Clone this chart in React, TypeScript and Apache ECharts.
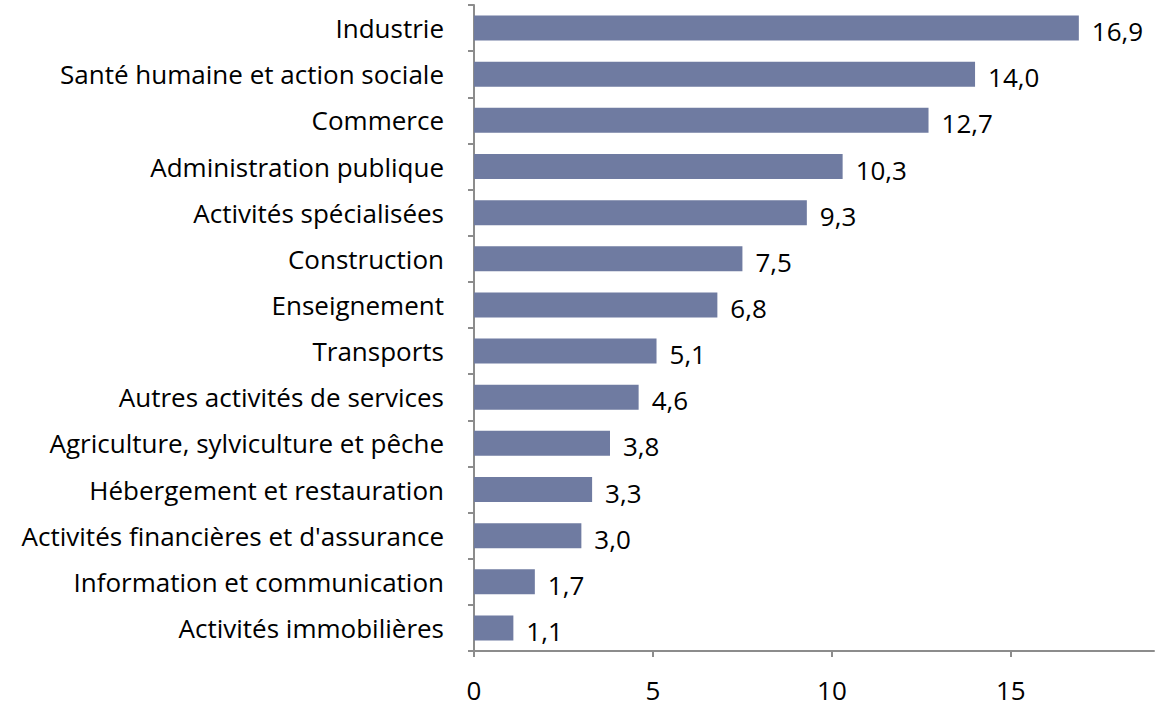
import React, { useEffect, useRef } from "react";
import * as echarts from "echarts";

const categories = [
  "Industrie",
  "Santé humaine et action sociale",
  "Commerce",
  "Administration publique",
  "Activités spécialisées",
  "Construction",
  "Enseignement",
  "Transports",
  "Autres activités de services",
  "Agriculture, sylviculture et pêche",
  "Hébergement et restauration",
  "Activités financières et d'assurance",
  "Information et communication",
  "Activités immobilières",
];
const values = [16.9, 14.0, 12.7, 10.3, 9.3, 7.5, 6.8, 5.1, 4.6, 3.8, 3.3, 3.0, 1.7, 1.1];
const xTicks = [0, 5, 10, 15];

const FONT = "Open Sans";
const FS = 26;

export default function App() {
  const ref = useRef<HTMLDivElement>(null);
  useEffect(() => {
    const chart = echarts.init(ref.current!, null, { renderer: "svg" });
    chart.setOption({
      animation: false,
      grid: { left: 474, right: 3, top: 5, bottom: 56 },
      xAxis: {
        type: "value",
        min: 0,
        max: 19,
        interval: 5,
        splitLine: { show: false },
        axisLine: { show: true, lineStyle: { color: "#8c8c8c", width: 2 } },
        axisTick: { show: true, length: 6, customValues: xTicks, lineStyle: { color: "#8c8c8c", width: 2 } },
        axisLabel: {
          customValues: xTicks,
          margin: 26,
          color: "#000",
          fontFamily: FONT,
          fontSize: FS,
        },
      },
      yAxis: {
        type: "category",
        inverse: true,
        data: categories,
        axisLine: { show: true, lineStyle: { color: "#8c8c8c", width: 2 } },
        axisTick: { show: true, length: 6, lineStyle: { color: "#8c8c8c", width: 2 } },
        axisLabel: {
          margin: 30,
          color: "#000",
          fontFamily: FONT,
          fontSize: FS,
        },
      },
      series: [
        {
          type: "bar",
          data: values,
          barWidth: 25,
          itemStyle: { color: "#6f7ba1" },
          label: {
            show: true,
            position: "right",
            distance: 13,
            offset: [0, 3],
            color: "#000",
            fontFamily: FONT,
            fontSize: FS,
            formatter: (p: any) => p.value.toFixed(1).replace(".", ","),
          },
        },
      ],
    });
    return () => chart.dispose();
  }, []);
  return (
    <div
      ref={ref}
      style={{ position: "fixed", left: 0, top: 0, width: 1157, height: 707, background: "#fff" }}
    />
  );
}
